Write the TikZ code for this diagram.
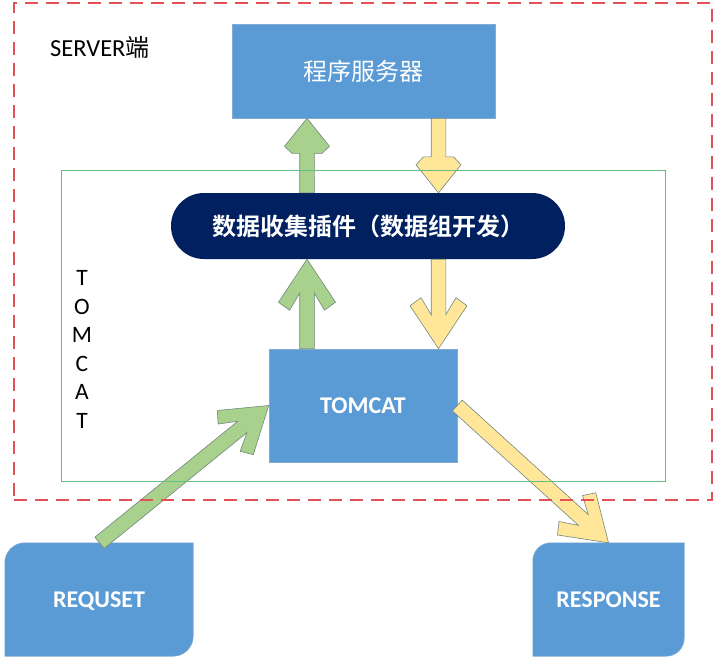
\documentclass[tikz,border=0pt]{standalone}
\usepackage{fontspec}
\setmainfont{Carlito}
\newfontfamily\cjk{Noto Sans CJK SC}[BoldFont={Noto Sans CJK SC Bold}]
\usetikzlibrary{calc,backgrounds}
\definecolor{boxblue}{RGB}{91,155,213}
\definecolor{boxedge}{RGB}{130,172,212}
\definecolor{navy}{RGB}{0,32,96}
\definecolor{agreen}{RGB}{169,209,142}
\definecolor{ayellow}{RGB}{255,230,153}
\definecolor{aedge}{RGB}{115,135,125}
\definecolor{dashred}{RGB}{226,80,88}
\definecolor{zonegreen}{RGB}{100,190,130}
% #1 style, #2 from, #3 to, #4 shaft half width, #5 notch, #6 arm end along, #7 arm end lateral, #8 wing along, #9 wing lateral
\newcommand{\blkarrow}[9]{%
  \draw[#1] let \p1=(#2), \p2=(#3), \n1={atan2(\y2-\y1,\x2-\x1)}, \n2={veclen(\x2-\x1,\y2-\y1)} in
  [shift={(\p1)}, rotate=\n1]
  (0,-#4) -- ({\n2-#5},-#4) -- ({\n2-#6},-#7) -- ({\n2-#8},-#9) -- (\n2,0)
  -- ({\n2-#8},#9) -- ({\n2-#6},#7) -- ({\n2-#5},#4) -- (0,#4) -- cycle;}
\tikzset{
  box/.style={fill=boxblue, draw=boxedge, line width=0.6pt, text=white, inner sep=0pt},
  garrow/.style={fill=agreen, draw=aedge, line width=0.6pt},
  yarrow/.style={fill=ayellow, draw=aedge, line width=0.6pt},
  latinb/.style={font=\fontsize{24}{28}\selectfont\bfseries, text height=15pt, text depth=0pt},
  cjkreg/.style={font=\cjk\fontsize{24}{28}\selectfont},
  cjkbold/.style={font=\cjk\bfseries\fontsize{24}{28}\selectfont},
}
\begin{document}
\begin{tikzpicture}[x=1pt,y=-1pt]
\useasboundingbox (0,0) rectangle (718,665);
% boxes
\node[box, minimum width=263pt, minimum height=94pt, cjkreg] (prog) at (363.5,71) {程序服务器};
\node[fill=navy, rounded corners=32.9pt, minimum width=394pt, minimum height=66pt, text=white, cjkbold, inner sep=0pt] (pill) at (368,226) {数据收集插件（数据组开发）};
\node[box, minimum width=188pt, minimum height=113pt, latinb] (tomcat) at (363,405.5) {TOMCAT};
\node[minimum width=188pt, minimum height=113pt, latinb, text=white, inner sep=0pt] (req) at (99,599.5) {REQUSET};
\node[minimum width=151pt, minimum height=113pt, latinb, text=white, inner sep=0pt] (resp) at (608.5,599.5) {RESPONSE};
\begin{pgfonlayer}{background}
\path[fill=boxblue, draw=boxedge, line width=0.6pt] (req.south west) -- ([yshift=-20pt]req.north west)
  arc[start angle=180, end angle=90, radius=20pt] -- (req.north east) -- ([yshift=20pt]req.south east)
  arc[start angle=0, end angle=-90, radius=20pt] -- cycle;
\path[fill=boxblue, draw=boxedge, line width=0.6pt] (resp.south west) -- ([yshift=-18pt]resp.north west)
  arc[start angle=180, end angle=90, radius=18pt] -- (resp.north east) -- ([yshift=18pt]resp.south east)
  arc[start angle=0, end angle=-90, radius=18pt] -- cycle;
\end{pgfonlayer}
% arrows
\blkarrow{garrow}{[xshift=-61pt]pill.north}{[xshift=-56.5pt]prog.south}{7.3}{35}{35}{15}{28}{22.5}
\blkarrow{yarrow}{[xshift=75pt]prog.south}{[xshift=70.5pt]pill.north}{7.3}{36}{36}{15}{28}{22.5}
\blkarrow{garrow}{[xshift=-56pt]tomcat.north}{[xshift=-61pt]pill.south}{7.3}{34}{51}{17.5}{43}{28.5}
\blkarrow{yarrow}{[xshift=70.5pt]pill.south}{[xshift=75.5pt]tomcat.north}{7.3}{34}{51}{17.5}{43}{28.5}
\blkarrow{garrow}{[xshift=0.5pt]req.north}{tomcat.west}{7.3}{34}{51}{17.5}{43}{28.5}
\blkarrow{yarrow}{tomcat.east}{resp.north}{7.3}{34}{51}{17.5}{43}{28.5}
% labels
\node[anchor=base west, inner sep=0pt, font=\fontsize{24.5}{28}\selectfont] (slabel) at (50,56.7) {SERVER{\cjk\fontsize{24}{28}\selectfont 端}};
\node[align=center, inner sep=0pt, font=\fontsize{23.5}{28.6}\selectfont] (vt) at (82,349.5) {T\\O\\M\\C\\A\\T};
% frames
\node[draw=zonegreen, line width=0.9pt, minimum width=604pt, minimum height=311pt, inner sep=0pt] (zone) at (363,325.5) {};
\node[draw=dashred, line width=1.1pt, dash pattern=on 13pt off 8pt, minimum width=698pt, minimum height=497pt, inner sep=0pt] (server) at (363,251.5) {};
\end{tikzpicture}
\end{document}
